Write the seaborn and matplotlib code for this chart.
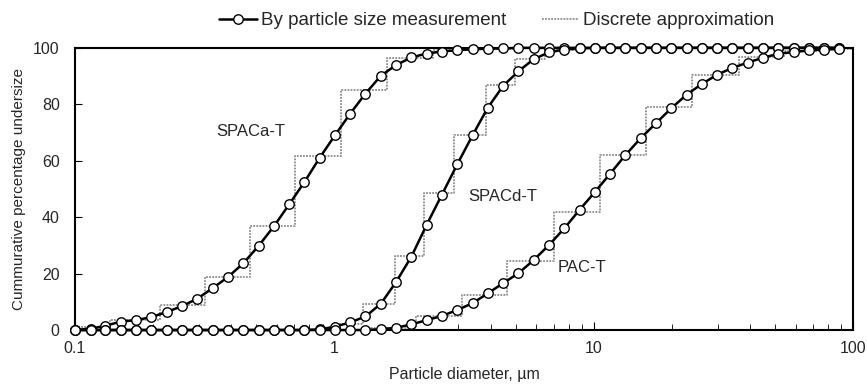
import numpy as np
import pandas as pd
import matplotlib
matplotlib.use('Agg')
import matplotlib.pyplot as plt
import matplotlib.ticker as mticker
from matplotlib.lines import Line2D
import seaborn as sns

sns.set_style('ticks')
plt.rcParams['font.family'] = ['Liberation Sans', 'DejaVu Sans']

# measurement bins (um)
diam = [0.100, 0.115, 0.131, 0.150, 0.172, 0.197, 0.226, 0.259, 0.296, 0.339,
        0.389, 0.445, 0.510, 0.584, 0.669, 0.766, 0.877, 1.005, 1.151, 1.318,
        1.510, 1.729, 1.981, 2.269, 2.599, 2.976, 3.409, 3.905, 4.472, 5.122,
        5.867, 6.720, 7.697, 8.816, 10.097, 11.565, 13.246, 15.172, 17.377, 19.904,
        22.797, 26.111, 29.907, 34.255, 39.234, 44.938, 51.471, 58.953, 67.523, 77.337,
        88.583]

# cumulative % undersize
spaca = [0, 0.5, 1.5, 3.0, 3.5, 4.6, 6.4, 8.5, 11.1, 14.8,
         18.8, 23.6, 29.8, 36.7, 44.5, 52.4, 61.0, 69.0, 76.7, 83.8,
         90.1, 93.9, 96.6, 98.0, 98.7, 99.2, 99.5, 99.7, 99.8, 100,
         100, 100, 100, 100, 100, 100, 100, 100, 100, 100,
         100, 100, 100, 100, 100, 100, 100, 100, 100, 100,
         100]
spacd = [0, 0, 0, 0, 0, 0, 0, 0, 0, 0,
         0, 0, 0, 0, 0, 0, 0.2, 1.2, 2.7, 4.8,
         9.3, 17.0, 26.0, 37.3, 48.0, 58.7, 69.0, 78.8, 86.5, 91.7,
         96.0, 98.4, 99.4, 99.8, 100, 100, 100, 100, 100, 100,
         100, 100, 100, 100, 100, 100, 100, 100, 100, 100,
         100]
pac = [0, 0, 0, 0, 0, 0, 0, 0, 0, 0,
       0, 0, 0, 0, 0, 0, 0, 0, 0, 0,
       0.3, 0.8, 2.0, 3.5, 5.0, 7.1, 9.5, 13.0, 16.6, 20.1,
       24.8, 30.1, 36.0, 42.6, 48.9, 55.4, 62.0, 68.0, 73.3, 78.6,
       83.4, 87.2, 90.5, 92.9, 94.8, 96.5, 97.9, 98.5, 99.1, 99.4,
       99.6]

# discrete approximation (step edges and levels)
a_edges = [0.1, 0.136, 0.212, 0.318, 0.471, 0.707, 1.06, 1.60, 2.40, 3.60, 5.40, 100]
a_levels = [0.9, 3.5, 8.7, 18.7, 36.9, 61.6, 84.9, 96.5, 99.2, 99.7, 100, 100]
d_edges = [0.1, 0.98, 1.29, 1.71, 2.22, 2.90, 3.83, 4.97, 6.50, 8.50, 100]
d_levels = [0.1, 2.0, 9.3, 26.1, 48.4, 69.0, 86.7, 96.0, 99.3, 100, 100]
p_edges = [0.1, 1.38, 2.07, 3.11, 4.65, 7.03, 10.6, 15.9, 23.9, 36.3, 54.0, 81.0, 100]
p_levels = [0, 0.8, 5.1, 12.4, 24.3, 42.0, 61.9, 78.9, 90.5, 96.8, 98.8, 99.7, 99.7]

samples = ['SPACa-T', 'SPACd-T', 'PAC-T']
measured = {'SPACa-T': spaca, 'SPACd-T': spacd, 'PAC-T': pac}
steps = {'SPACa-T': (a_edges, a_levels), 'SPACd-T': (d_edges, d_levels),
         'PAC-T': (p_edges, p_levels)}

fig = plt.figure(figsize=(8.67, 3.86), dpi=100)
ax = fig.add_axes([0.0865, 0.145, 0.8975, 0.731])

step_kw = dict(color='#8c8c8c', lw=1.3, linestyle=(0, (1, 0.7)), zorder=2)
for s in samples:
    e, l = steps[s]
    sdf = pd.DataFrame({'d': e, 'cum': l})
    sns.lineplot(data=sdf, x='d', y='cum', ax=ax, drawstyle='steps-post',
                 estimator=None, sort=False, **step_kw)

for s in samples:
    df = pd.DataFrame({'d': diam, 'cum': measured[s]})
    sns.lineplot(data=df, x='d', y='cum', ax=ax, color='black', lw=1.8,
                 marker='o', markersize=6.8, markerfacecolor='white',
                 markeredgecolor='black', markeredgewidth=1.0,
                 estimator=None, clip_on=False, zorder=4)

ax.set_xscale('log')
ax.set_xlim(0.1, 100)
ax.set_ylim(0, 100)
ax.set_yticks([0, 20, 40, 60, 80, 100])
ax.xaxis.set_major_locator(mticker.LogLocator(base=10))
ax.xaxis.set_minor_locator(mticker.LogLocator(base=10, subs=np.arange(2, 10)))
ax.xaxis.set_major_formatter(mticker.FuncFormatter(lambda v, p: f'{v:g}'))
ax.xaxis.set_minor_formatter(mticker.NullFormatter())
ax.tick_params(which='both', direction='in', top=False, right=False,
               labelsize=11.5, color='black')
ax.tick_params(axis='x', which='major', length=6, pad=8)
ax.tick_params(axis='x', which='minor', length=4)
ax.tick_params(axis='y', which='major', length=5, pad=11)
for sp in ax.spines.values():
    sp.set_visible(True)
    sp.set_linewidth(1.5)
    sp.set_color('black')

ax.set_xlabel('Particle diameter, µm', fontsize=11.5, labelpad=8)
ax.set_ylabel('Cummurative percentage undersize', fontsize=11, labelpad=5)

ax.text(0.477, 70.2, 'SPACa-T', fontsize=12, ha='center', va='center')
ax.text(4.44, 47.5, 'SPACd-T', fontsize=12, ha='center', va='center')
ax.text(9.0, 22.3, 'PAC-T', fontsize=12, ha='center', va='center')

handles = [Line2D([], [], color='black', lw=1.8, marker='o', markersize=6.8,
                  markerfacecolor='white', markeredgecolor='black'),
           Line2D([], [], color='#8c8c8c', lw=1.3, linestyle=(0, (1, 0.7)))]
fig.legend(handles, ['By particle size measurement', 'Discrete approximation'],
           loc='upper center', bbox_to_anchor=(0.573, 1.012), ncol=2,
           frameon=False, fontsize=13.5, handlelength=2.0, handletextpad=0.2,
           columnspacing=1.9)

fig.savefig('out.png', dpi=100)
